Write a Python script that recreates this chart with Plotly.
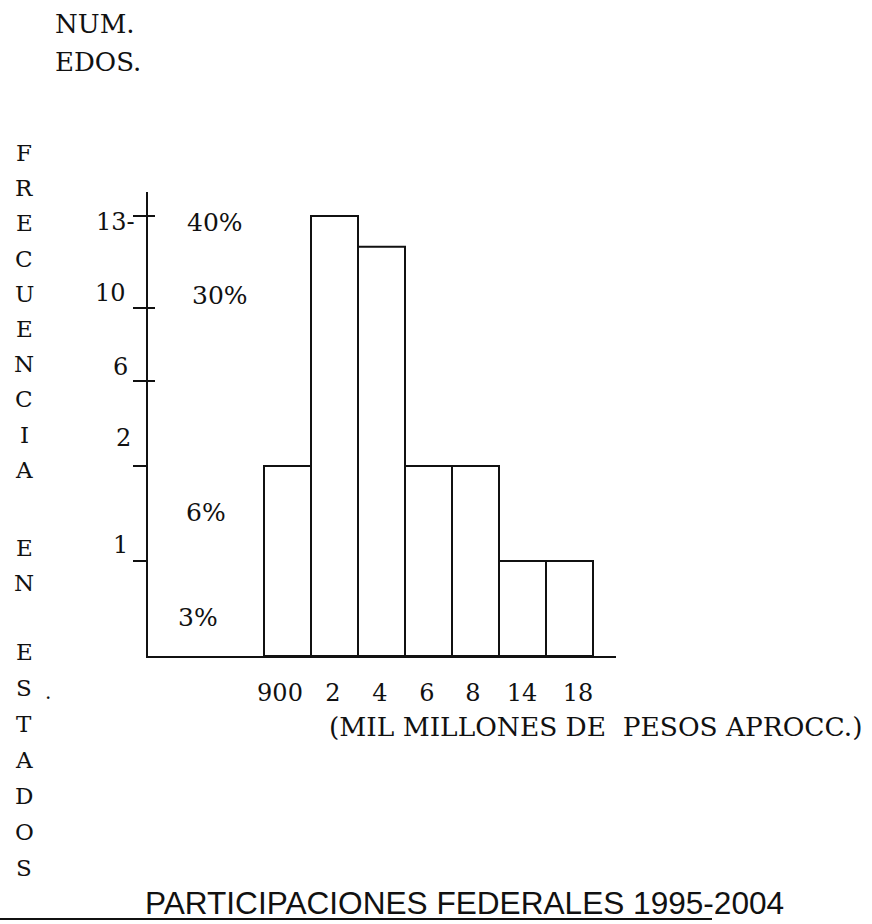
import numpy as np
import plotly.graph_objects as go

# ---------------- data ----------------
bin_labels = ["900", "2", "4", "6", "8", "14", "18"]
frequencies = [2, 13, 12, 2, 2, 1, 1]
y_tick_values = [13, 10, 6, 2, 1]
y_tick_text = ["13-", "10", "6", "2", "1"]
pct_labels = ["40%", "30%", "6%", "3%"]
title_text = "PARTICIPACIONES FEDERALES 1995-2004"
unit_text = "(MIL MILLONES DE\u00a0\u00a0PESOS APROCC.)"
corner_text = ["NUM.", "EDOS."]
side_words = ["FRECUENCIA", "EN", "ESTADOS"]

# hand-drawn (non-linear) frequency scale: value -> drawing height
scale_values = [0, 1, 2, 6, 10, 13]
scale_heights = [0, 95, 190, 275, 348, 440]


def scale(v):
    return np.interp(v, scale_values, scale_heights)


# ---------------- layout geometry (pixels) ----------------
W, H = 872, 924
L, R, T, B = 148, 256, 192, 268
PW, PH = W - L - R, H - T - B
BASE = H - B


def px(x):
    return (x - L) / PW


def py(y):
    return (BASE - y) / PH


SERIF = "DejaVu Serif"
INK = "#111111"

xs = list(range(len(bin_labels)))
fig = go.Figure()
fig.add_trace(go.Bar(
    x=xs, y=scale(frequencies), width=1.0,
    marker=dict(color="white", line=dict(color=INK, width=2)),
    hoverinfo="skip", showlegend=False,
))

bar_px = 47.0
bar_left = 264
xmin = -0.5 - (bar_left - L) / bar_px
xmax = xmin + PW / bar_px

# label centres as hand-lettered under the bars (pixels)
xlab_px = [280, 333, 380, 427, 473, 522, 578]
xlab_vals = [(p - bar_left) / bar_px - 0.5 for p in xlab_px]

annotations = []

# y tick labels (hand placed beside the axis)
ylab_pos = [(137, 222), (128, 293), (130, 367), (133, 438), (130, 545)]
for txt, (xr, yc) in zip(y_tick_text, ylab_pos):
    annotations.append(dict(text=txt, x=px(xr), y=py(yc), xref="paper", yref="paper",
                            xanchor="right", yanchor="middle", showarrow=False,
                            font=dict(family=SERIF, size=24, color=INK)))

# percentage labels
pct_pos = [(215, 222), (220, 295), (206, 512), (198, 617)]
for txt, (xc, yc) in zip(pct_labels, pct_pos):
    annotations.append(dict(text=txt, x=px(xc), y=py(yc), xref="paper", yref="paper",
                            xanchor="center", yanchor="middle", showarrow=False,
                            font=dict(family=SERIF, size=25, color=INK)))

# corner text
for txt, yc in zip(corner_text, [24, 62]):
    annotations.append(dict(text=txt, x=px(53), y=py(yc), xref="paper", yref="paper",
                            xanchor="left", yanchor="middle", showarrow=False,
                            font=dict(family=SERIF, size=26, color=INK)))

# vertical stacked letters
word_starts = [153, 548, 652]
word_steps = [35.2, 35, 36]
for word, y0, step in zip(side_words, word_starts, word_steps):
    for i, ch in enumerate(word):
        annotations.append(dict(text=ch, x=px(24), y=py(y0 + i * step), xref="paper", yref="paper",
                                xanchor="center", yanchor="middle", showarrow=False,
                                font=dict(family=SERIF, size=23, color=INK)))
annotations.append(dict(text=".", x=px(48), y=py(692), xref="paper", yref="paper",
                        xanchor="center", yanchor="middle", showarrow=False,
                        font=dict(family=SERIF, size=20, color=INK)))

# unit label
annotations.append(dict(text=unit_text, x=px(327), y=py(726), xref="paper", yref="paper",
                        xanchor="left", yanchor="middle", showarrow=False,
                        font=dict(family=SERIF, size=26.4, color=INK)))

# title
annotations.append(dict(text=title_text, x=px(143), y=py(903), xref="paper", yref="paper",
                        xanchor="left", yanchor="middle", showarrow=False,
                        font=dict(family="Liberation Sans", size=31.6, color=INK)))

shapes = [dict(type="line", xref="paper", yref="paper", x0=px(0), x1=px(712),
               y0=py(919), y1=py(919), line=dict(color=INK, width=2))]
# tick marks extending right of the axis for the upper ticks
for v in y_tick_values[:3]:
    shapes.append(dict(type="line", xref="paper", yref="y", x0=0, x1=px(155),
                       y0=float(scale(v)), y1=float(scale(v)), line=dict(color=INK, width=2)))

fig.update_layout(
    width=W, height=H,
    margin=dict(l=L, r=R, t=T, b=B, pad=0),
    paper_bgcolor="white", plot_bgcolor="white",
    bargap=0,
    xaxis=dict(range=[xmin, xmax], showgrid=False, zeroline=False,
               showline=True, linecolor=INK, linewidth=2,
               tickmode="array", tickvals=xlab_vals, ticktext=bin_labels, ticks="",
               ticklabelstandoff=14,
               tickfont=dict(family=SERIF, size=24, color=INK)),
    yaxis=dict(range=[0, PH], showgrid=False, zeroline=False,
               showline=True, linecolor=INK, linewidth=2,
               tickmode="array", tickvals=[float(scale(v)) for v in y_tick_values],
               ticks="outside", ticklen=13, tickwidth=2, tickcolor=INK,
               showticklabels=False),
    annotations=annotations,
    shapes=shapes,
)

fig.write_html("out.html",
               config={"displayModeBar": False, "staticPlot": True},
               post_script="document.body.style.margin='0';document.body.style.overflow='hidden';")
